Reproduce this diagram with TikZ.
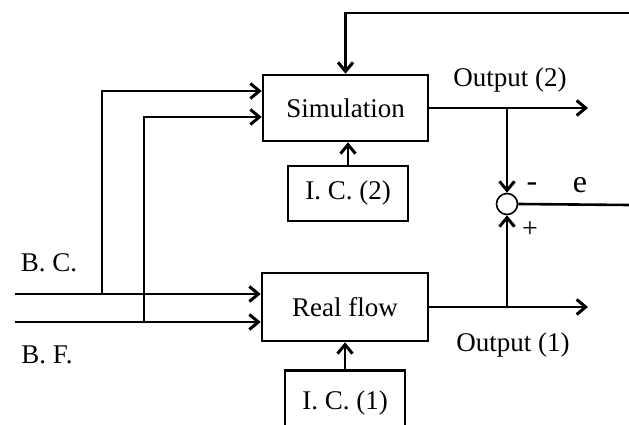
\documentclass[tikz,border=0pt]{standalone}
\usepackage{fontspec}
\setmainfont{Liberation Serif}
\usetikzlibrary{arrows.meta,positioning}
\begin{document}
\begin{tikzpicture}[x=1pt,y=1pt,>={Straight Barb[length=9pt,width=15pt,line width=3pt]},line width=2.6pt,
  blk/.style={draw,line width=2.6pt,font=\fontsize{27}{30}\selectfont,inner sep=0pt},
  lbl/.style={font=\fontsize{27}{30}\selectfont,inner sep=0pt}]
 \useasboundingbox (0,0) rectangle (629,424);
 \clip (0,0) rectangle (629,424);
 \node[blk,minimum width=165pt,minimum height=66pt] (sim) at (345.5,316) {Simulation};
 \node[blk,minimum width=166pt,minimum height=68pt] (real) at (345,117) {Real flow};
 \node[blk,minimum width=120pt,minimum height=55pt] (ic2) at (348,230.5) {I. C. (2)};
 \node[blk,minimum width=120pt,minimum height=66pt,anchor=north] (ic1) at (345,55) {I. C. (1)};
 \node[draw,circle,minimum size=21pt,inner sep=0pt,line width=1.6pt] (sum) at (507,220) {};
 \coordinate (fb) at (629,411);
 \coordinate (out2) at (588,316);
 \coordinate (out1) at (588,117);
 \coordinate (e) at (629,219);
 \coordinate (bc) at (15,130);
 \coordinate (bf) at (15,102);
 \coordinate (bc1) at (102,130);
 \coordinate (bf1) at (144,102);
 \draw[->] (fb) -| (sim.north);
 \draw[->] (ic2.north) -- (ic2.north |- sim.south);
 \draw[->] (ic1.north) -- (ic1.north |- real.south);
 \draw[->] (sim.east) -- (out2);
 \draw[->] (real.east) -- (out1);
 \draw[->] (sum.north |- out2) -- (sum.north);
 \draw[->] (sum.south |- out1) -- (sum.south);
 \draw (sum.east) -- (e);
 \foreach \p in {bc,bf}{
  \draw[->] (\p) -- (\p -| real.west);}
 \draw[->] (bc1) |- ([yshift=17pt]sim.west);
 \draw[->] (bf1) |- ([yshift=-9pt]sim.west);
 \node[lbl] (o2) at (510,344) {Output (2)};
 \node[lbl] (o1) at (513,79) {Output (1)};
 \node[lbl] (lbc) at (49,161) {B. C.};
 \node[lbl] (lbf) at (47,69) {B. F.};
 \node[lbl,font=\fontsize{32}{34}\selectfont] (le) at (580,239) {e};
 \node[lbl,font=\fontsize{32}{34}\selectfont] (lm) at (532,237) {-};
 \node[lbl,font=\fontsize{28}{30}\selectfont] (lp) at (530,194) {+};
\end{tikzpicture}
\end{document}
